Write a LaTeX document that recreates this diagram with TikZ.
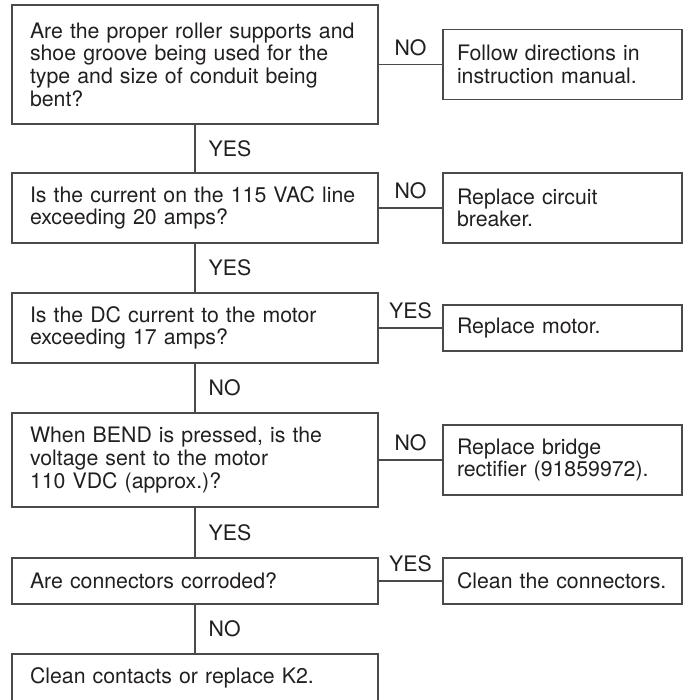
\documentclass[tikz,border=0pt]{standalone}
\usepackage{fontspec}
\setmainfont{TeX Gyre Heros}
\usepackage{tikz}
\usetikzlibrary{positioning, calc}
\definecolor{cLine}{HTML}{4A4A4A}
\definecolor{cText}{HTML}{231F20}

\begin{document}
\begin{tikzpicture}[x=0.5pt, y=-0.5pt,
    qbox/.style={draw=cLine, line width=0.7pt, text=cText,
                 font=\fontsize{10.65pt}{11.35pt}\selectfont,
                 text width=165pt, inner xsep=9pt, inner ysep=0pt, align=left},
    abox/.style={qbox, text width=105.5pt, inner xsep=7pt},
    lbl/.style={text=cText, font=\fontsize{10.65pt}{11.35pt}\selectfont, inner sep=0pt},
    link/.style={draw=cLine, line width=0.7pt}]
  \useasboundingbox (0,0) rectangle (684,700);
  % question column
  \node[qbox, minimum height=59.5pt] (q1) at (195, 64.5)
        {Are the proper roller supports and\\ shoe groove being used for the\\
         type and size of conduit being\\ bent?};
  \node[qbox, minimum height=35pt] (q2) at (195, 208)
        {Is the current on the 115 VAC line\\ exceeding 20 amps?};
  \node[qbox, minimum height=35pt] (q3) at (195, 328)
        {Is the DC current to the motor\\ exceeding 17 amps?};
  \node[qbox, minimum height=47pt] (q4) at (195, 460)
        {When BEND is pressed, is the\\ voltage sent to the motor\\ 110 VDC (approx.)?};
  \node[qbox, minimum height=23pt] (q5) at (195, 581) {Are connectors corroded?};
  \node[qbox, minimum height=24pt] (q6) at (195, 678) {Clean contacts or replace K2.};
  % answer column
  \node[abox, minimum height=35pt] (a1) at (562.5, 64.5)
        {Follow directions in\\ instruction manual.};
  \node[abox, minimum height=35pt] (a2) at (562.5, 208) {Replace circuit\\ breaker.};
  \node[abox, minimum height=23pt] (a3) at (562.5, 328) {Replace motor.};
  \node[abox, minimum height=35pt] (a4) at (562.5, 460)
        {Replace bridge\\ rectifier (91859972).};
  \node[abox, minimum height=23pt] (a5) at (562.5, 581) {Clean the connectors.};
  % links down
  \foreach \i/\j/\t in {1/2/YES, 2/3/YES, 3/4/NO, 4/5/YES, 5/6/NO}{
    \draw[link] (q\i.south) -- node[lbl, anchor=west, xshift=6.5pt] {\t} (q\j.north);
  }
  % links across
  \foreach \i/\t in {1/NO, 2/NO, 3/YES, 4/NO, 5/YES}{
    \draw[link] (q\i.east) -- node[lbl, anchor=south, yshift=4pt] {\t} (a\i.west);
  }
\end{tikzpicture}
\end{document}
